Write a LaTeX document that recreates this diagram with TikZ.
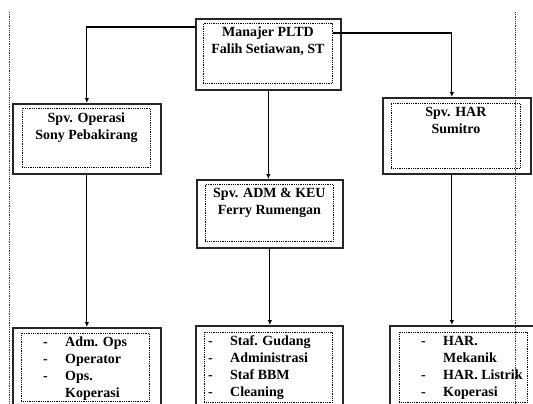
\documentclass[tikz,border=0pt]{standalone}
\usepackage{fontspec}
\setmainfont{Liberation Serif}
\usetikzlibrary{positioning, arrows.meta}

\begin{document}
\begin{tikzpicture}[x=1pt, y=1pt,
  outer/.style={draw=black!85, line width=1.7pt, anchor=north west, inner sep=0pt},
  inner/.style={draw, dash pattern=on 1pt off 0.8pt, line width=0.8pt, anchor=north west, inner sep=0pt},
  txt/.style={font=\fontsize{14}{17}\selectfont\bfseries, align=center, inner sep=0pt},
  lst/.style={font=\fontsize{14}{17}\selectfont\bfseries, inner sep=0pt},
  arr/.style={-{Latex[length=5pt,width=4.5pt]}, line width=1.1pt}]

\useasboundingbox (0,0) rectangle (533,-404);
\clip (0,0) rectangle (533,-404);

\draw[black!80, dash pattern=on 1pt off 0.8pt, line width=0.8pt] (9,-12) -- (9,-410);
\draw[black!80, dash pattern=on 1pt off 0.8pt, line width=0.8pt] (515,-12) -- (515,-410);

% manajer
\node[outer, minimum width=145, minimum height=71] (mgr) at (195,-18) {};
\node[inner, minimum width=129, minimum height=60] (mgrin) at (203,-23) {};
\node[txt, below=4pt of mgrin.north] (mgrtxt) {Manajer PLTD\\Falih Setiawan, ST};

% supervisors
\node[outer, minimum width=148, minimum height=70] (opr) at (12,-103) {};
\node[inner, minimum width=128, minimum height=59] (oprin) at (22,-108) {};
\node[txt, below=5pt of oprin.north] (oprtxt) {Spv. Operasi\\Sony Pebakirang};

\node[outer, minimum width=148, minimum height=76] (har) at (382,-97) {};
\node[inner, minimum width=129, minimum height=65] (harin) at (391,-103) {};
\node[txt, below=4pt of harin.north] (hartxt) {Spv. HAR\\Sumitro};

\node[outer, minimum width=146, minimum height=68] (adm) at (196,-179) {};
\node[inner, minimum width=128, minimum height=57] (admin) at (205,-184) {};
\node[txt, below=4pt of admin.north] (admtxt) {Spv. ADM \& KEU\\Ferry Rumengan};

% staf
\node[outer, minimum width=148, minimum height=90] (ops) at (12,-327) {};
\node[inner, minimum width=128, minimum height=68] (opsin) at (21,-333) {};
\node[lst, below right=1pt and 22pt of opsin.north west] (opslst)
  {\begin{tabular}{@{}p{22pt}@{}l@{}}-&Adm. Ops\\-&Operator\\-&Ops.\\&Koperasi\end{tabular}};

\node[outer, minimum width=147, minimum height=90] (keu) at (195,-325) {};
\node[inner, minimum width=128, minimum height=70] (keuin) at (204,-332) {};
\node[lst, below right=1pt and 4pt of keuin.north west] (keulst)
  {\begin{tabular}{@{}p{22pt}@{}l@{}}-&Staf. Gudang\\-&Administrasi\\-&Staf BBM\\-&Cleaning\end{tabular}};

\node[outer, minimum width=150, minimum height=90] (tek) at (389,-325) {};
\node[inner, minimum width=128, minimum height=70] (tekin) at (399,-332) {};
\node[lst, below right=1pt and 22pt of tekin.north west] (teklst)
  {\begin{tabular}{@{}p{22pt}@{}l@{}}-&HAR.\\&Mekanik\\-&HAR. Listrik\\-&Koperasi\end{tabular}};

% garis
\draw[arr] ([yshift=-9pt]mgr.north west) -| (opr.north);
\draw[arr] ([yshift=-10pt]mgrin.north east) -| ([xshift=-5pt]har.north);
\draw[arr] (mgr.south) -- (mgr.south |- adm.north);
\draw[arr] (opr.south) -- (ops.north);
\draw[arr] (adm.south) -- (adm.south |- keu.north);
\draw[arr] ([xshift=-5pt]har.south) -- ([xshift=-5pt]har.south |- tek.north);
\end{tikzpicture}
\end{document}
